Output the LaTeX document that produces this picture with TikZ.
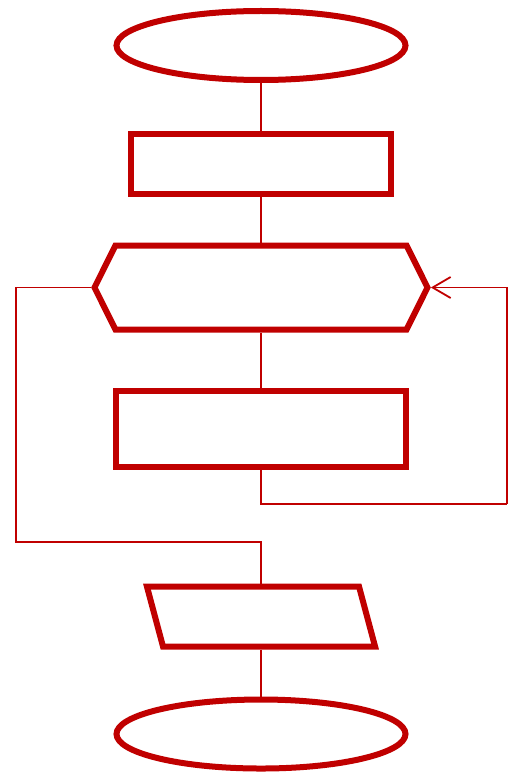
\documentclass[tikz,border=0pt]{standalone}
\usepackage{tikz}
\usetikzlibrary{arrows.meta,positioning,shapes.geometric,shapes.symbols}
\definecolor{fcred}{HTML}{C00000}

\begin{document}
\begin{tikzpicture}[
 x=1pt,y=-1pt,>={Straight Barb[length=18pt,width=21pt]},
 block/.style={draw=fcred,line width=6pt,inner sep=0pt},
 terminal/.style={block,ellipse,minimum width=289pt,minimum height=69pt},
 process/.style={block,rectangle,minimum width=260pt,minimum height=59pt},
 loopbox/.style={block,signal,signal to=west and east,signal pointer angle=127,minimum width=333pt,minimum height=84pt},
 iobox/.style={block,trapezium,trapezium left angle=105,trapezium right angle=75,inner xsep=98pt,inner ysep=30pt},
 link/.style={draw=fcred,line width=1.8pt}
]
\useasboundingbox (0,0) rectangle (518,778);
\node[terminal] (start) at (261,45.5) {};
\node[process,below=48.5pt of start] (init) {};
\node[loopbox,below=46pt of init] (cond) {};
\node[process,minimum width=290pt,minimum height=76pt,below=55pt of cond] (body) {};
\node[iobox,below=114pt of body] (output) {};
\node[terminal,below=47pt of output] (stop) {};
\coordinate (loopright) at (507,504);
\coordinate (loopleft) at (16,542);
\foreach \a/\b in {start/init,init/cond,cond/body,output/stop}
 \draw[link] (\a.south) -- (\b.north);
\draw[link] (body.south) |- (loopright);
\draw[link,->] (loopright) |- (cond.east);
\draw[link] (cond.west) -| (loopleft) -| (output.north);
\end{tikzpicture}
\end{document}
